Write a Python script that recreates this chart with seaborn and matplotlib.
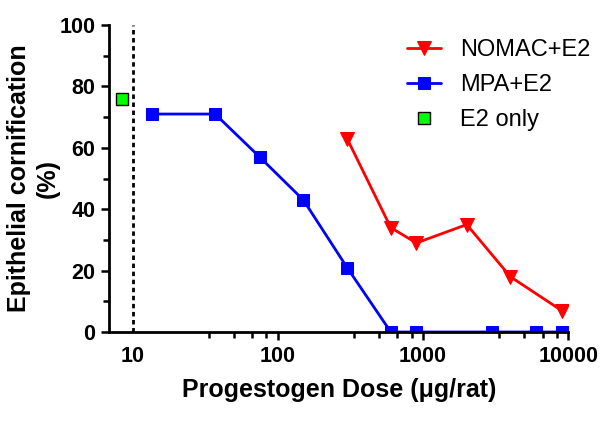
import numpy as np
import pandas as pd
import matplotlib
matplotlib.use("Agg")
import matplotlib.pyplot as plt
import matplotlib.ticker as mticker
import seaborn as sns

# data
mpa_dose = [13.5, 37, 75, 150, 300, 600, 900, 3000, 6000, 9000]
mpa_resp = [71, 71, 57, 43, 21, 0, 0, 0, 0, 0]

nomac_dose = [300, 600, 900, 2000, 4000, 9000]
nomac_resp = [63, 34, 29, 35, 18, 7]

e2_dose = [8.4]
e2_resp = [76]

x_ticks = [10, 100, 1000, 10000]
x_ticklabels = ["10", "100", "1000", "10000"]
y_ticks = [0, 20, 40, 60, 80, 100]

sns.set_style("ticks")
plt.rcParams['font.family'] = ['Liberation Sans', 'DejaVu Sans']
plt.rcParams.update({'text.color': 'black', 'axes.labelcolor': 'black',
                     'xtick.color': 'black', 'ytick.color': 'black',
                     'axes.edgecolor': 'black'})

fig = plt.figure(figsize=(6, 4.24), dpi=100)
ax = fig.add_axes([0.182, 0.217, 0.765, 0.724])

# vertical dashed reference line at 10
ax.plot([10, 10], [0, 100], color='black', lw=2, ls=(0, (1.6, 1.3)), zorder=1)

sns.lineplot(x=nomac_dose, y=nomac_resp, ax=ax, color='#ff0000', lw=2,
             marker='v', markersize=10, markeredgecolor='#ff0000',
             label='NOMAC+E2')
sns.lineplot(x=mpa_dose, y=mpa_resp, ax=ax, color='#0000ff', lw=2,
             marker='s', markersize=9, markeredgecolor='#0000ff',
             label='MPA+E2')
ax.plot(e2_dose, e2_resp, ls='none', marker='s', markersize=8,
        markerfacecolor='#00ff00', markeredgecolor='black', markeredgewidth=1,
        label='E2 only', clip_on=False)

ax.set_xscale('log')
ax.set_xlim(6.9, 10000)
ax.set_ylim(0, 100)

ax.set_xticks(x_ticks)
ax.set_xticklabels(x_ticklabels)
minor = [d * f for d in [10, 100, 1000] for f in [10 / 3, 5, 20 / 3, 25 / 3]]
ax.xaxis.set_minor_locator(mticker.FixedLocator(minor))
ax.xaxis.set_minor_formatter(mticker.NullFormatter())
ax.xaxis.get_major_ticks()[0].tick1line.set_visible(False)

ax.set_yticks(y_ticks)
ax.yaxis.set_minor_locator(mticker.MultipleLocator(10))

for lab in ax.get_xticklabels() + ax.get_yticklabels():
    lab.set_fontweight('bold')
    lab.set_fontsize(15.5)

ax.tick_params(which='major', direction='out', length=6, width=1.8, pad=4)
ax.tick_params(which='minor', direction='out', length=4, width=1.8)

sns.despine(ax=ax)
for s in ['left', 'bottom']:
    ax.spines[s].set_linewidth(2)

ax.set_xlabel('Progestogen Dose (\u03bcg/rat)', fontsize=18, fontweight='bold', labelpad=8)
ax.set_ylabel('Epithelial cornification\n(%)', fontsize=18, fontweight='bold',
              labelpad=0, linespacing=1.25)

ax.legend(loc='upper right', frameon=False, fontsize=17, handlelength=1.45,
          borderaxespad=0.2, labelspacing=0.55, handletextpad=0.8,
          bbox_to_anchor=(1.08, 1.0))

fig.savefig('out.png', dpi=100)
